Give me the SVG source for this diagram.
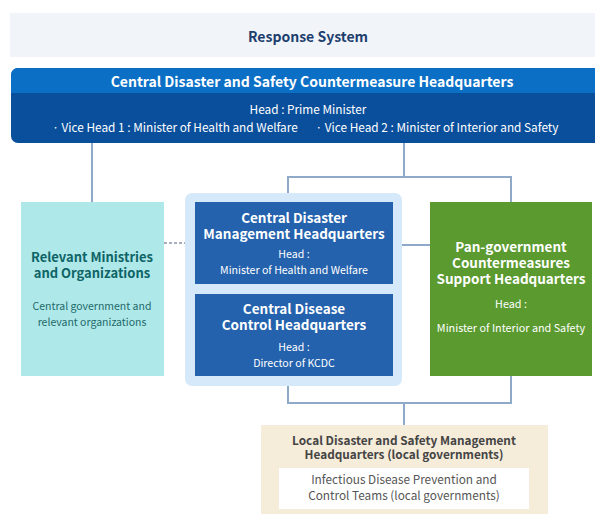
<svg xmlns="http://www.w3.org/2000/svg" width="595" height="514" viewBox="0 0 595 514">
<style>
text{font-family:"Noto Sans CJK KR","Noto Sans",sans-serif;text-anchor:middle}
.b{font-weight:700}
.w{fill:#ffffff}
.h{font-size:13.5px}
.conn{stroke:#8fa9c9;stroke-width:2;fill:none}
</style>
<rect width="595" height="514" fill="#ffffff"/>
<g id="title">
<rect x="10" y="13" width="585" height="44" fill="#f1f5fa"/>
<text x="308" y="42" class="b" font-size="14" fill="#1e3f6e">Response System</text>
</g>
<g id="connectors">
<line class="conn" x1="92" y1="143" x2="92" y2="202"/>
<polyline class="conn" points="404,143 404,177 288,177 288,193"/>
<polyline class="conn" points="404,177 511,177 511,202"/>
<line class="conn" x1="393" y1="245" x2="430" y2="245"/>
<line x1="164" y1="243" x2="195" y2="243" stroke="#8a94a6" stroke-width="1.5" stroke-dasharray="3,2"/>
<polyline class="conn" points="288,386 288,403 511,403 511,376"/>
<line class="conn" x1="404" y1="403" x2="404" y2="425"/>
</g>
<g id="central-hq">
<rect x="11" y="68" width="600" height="75" rx="7" fill="#0a4f9c"/>
<path d="M11,93 V75 A7,7 0 0 1 18,68 H600 V93 Z" fill="#0b6fc6"/>
<text x="312" y="87" class="b w" font-size="14">Central Disaster and Safety Countermeasure Headquarters</text>
<text class="w" font-size="11.8"><tspan x="308" y="114">Head : Prime Minister</tspan><tspan x="175" y="132">· Vice Head 1 : Minister of Health and Welfare</tspan><tspan x="437" y="132">· Vice Head 2 : Minister of Interior and Safety</tspan></text>
</g>
<g id="relevant-ministries">
<rect x="21" y="202" width="143" height="174" fill="#aee8e9"/>
<text class="b" font-size="13" fill="#0e6466"><tspan x="92" y="262">Relevant Ministries</tspan><tspan x="92" y="278">and  Organizations</tspan></text>
<text font-size="10.5" fill="#1f6a6a"><tspan x="92" y="310">Central government and</tspan><tspan x="92" y="326">relevant organizations</tspan></text>
</g>
<g id="central-container">
<rect x="185" y="193" width="217" height="193" rx="7" fill="#d5e9fa"/>
</g>
<g id="cdmh">
<rect x="195" y="202" width="198" height="82" fill="#2462ad"/>
<text class="b w h"><tspan x="294" y="223">Central Disaster</tspan><tspan x="294" y="239">Management Headquarters</tspan></text>
<text class="w" font-size="10.6"><tspan x="294" y="258">Head :</tspan><tspan x="294" y="274">Minister of Health and Welfare</tspan></text>
</g>
<g id="cdch">
<rect x="195" y="294" width="198" height="82" fill="#2462ad"/>
<text class="b w h"><tspan x="294" y="314">Central Disease</tspan><tspan x="294" y="330">Control Headquarters</tspan></text>
<text class="w" font-size="10.6"><tspan x="294" y="351">Head :</tspan><tspan x="294" y="367">Director of KCDC</tspan></text>
</g>
<g id="pan-government">
<rect x="430" y="202" width="162" height="174" fill="#5a9a2f"/>
<text class="b w h"><tspan x="511" y="252">Pan-government</tspan><tspan x="511" y="268">Countermeasures</tspan><tspan x="511" y="284">Support Headquarters</tspan></text>
<text class="w" font-size="10.8"><tspan x="511" y="308">Head :</tspan><tspan x="511" y="332">Minister of Interior and Safety</tspan></text>
</g>
<g id="local-hq">
<rect x="261" y="425" width="287" height="89" fill="#f6ecda"/>
<text class="b" font-size="11.8" fill="#444444"><tspan x="404" y="445">Local Disaster and Safety Management</tspan><tspan x="404" y="459">Headquarters (local governments)</tspan></text>
<rect x="279" y="468" width="250" height="41" fill="#ffffff"/>
<text font-size="11.8" fill="#555555"><tspan x="404" y="484">Infectious Disease Prevention and</tspan><tspan x="404" y="500">Control Teams (local governments)</tspan></text>
</g>
</svg>
